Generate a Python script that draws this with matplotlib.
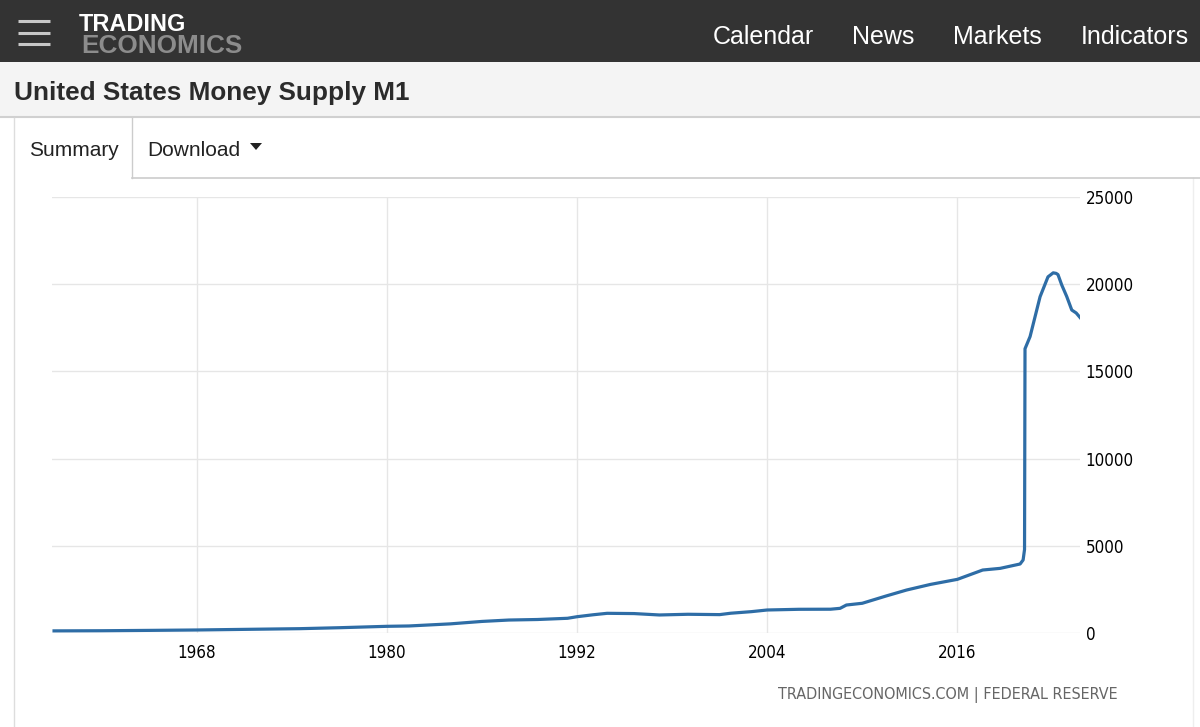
import matplotlib.pyplot as plt
from matplotlib.patches import Rectangle, Polygon
from matplotlib import font_manager

# Data: decimal year, M1 in USD billion
years = [1959.0, 1962.0, 1965.0, 1968.0, 1971.0, 1974.5, 1977.0, 1980.0, 1981.4,
         1984.0, 1986.0, 1987.7, 1989.5, 1991.4, 1992.0, 1993.0, 1993.9, 1995.6,
         1997.2, 1999.0, 2001.0, 2001.7, 2003.0, 2004.0, 2006.0, 2008.0, 2008.6,
         2009.0, 2010.0, 2011.5, 2012.8, 2014.3, 2016.0, 2017.6, 2018.7, 2019.96,
         2020.15, 2020.24, 2020.27, 2020.59, 2021.22, 2021.72, 2022.05, 2022.23,
         2022.35, 2022.59, 2022.9, 2023.22, 2023.5, 2023.79]
m1 = [139, 147, 167, 190, 225, 265, 320, 400, 420,
      540, 680, 760, 790, 860, 950, 1060, 1145, 1130,
      1050, 1090, 1070, 1150, 1240, 1335, 1375, 1380, 1430,
      1620, 1720, 2136, 2480, 2800, 3090, 3625, 3720, 3970,
      4200, 4800, 16300, 17000, 19280, 20420, 20650, 20620,
      20550, 19950, 19300, 18520, 18350, 18040]

x_ticks = [1968, 1980, 1992, 2004, 2016]
y_ticks = [0, 5000, 10000, 15000, 20000, 25000]
nav_items = ['Calendar', 'News', 'Markets', 'Indicators']
nav_x = [713, 852, 953, 1081]

# narrow font for the chart texts, if there is one
narrow = None
for f in font_manager.fontManager.ttflist:
    if (f.name == 'DejaVu Sans' and f.stretch == 'condensed'
            and f.style == 'normal' and f.weight in (400, 'normal')):
        narrow = f.fname
        break
if narrow:
    tick_font = font_manager.FontProperties(fname=narrow, size=12.2)
    src_font = font_manager.FontProperties(fname=narrow, size=11.5)
else:
    tick_font = font_manager.FontProperties(family='DejaVu Sans', size=11)
    src_font = font_manager.FontProperties(family='DejaVu Sans', size=10.5)

W, H = 1200, 727
fig = plt.figure(figsize=(12, 7.27), dpi=100)
fig.patch.set_facecolor('white')

# page background in pixel coords
bg = fig.add_axes([0, 0, 1, 1])
bg.set_xlim(0, W)
bg.set_ylim(H, 0)
bg.axis('off')

# header bar
bg.add_patch(Rectangle((0, 0), W, 62, color='#333333', lw=0))
for yy in [21, 32.5, 44]:
    bg.plot([18, 50], [yy, yy], color='#c8c8c8', lw=2.2, solid_capstyle='butt')
bg.text(79, 30.7, 'TRADING', color='white', fontsize=16.9, fontweight='bold',
        family='Liberation Sans', va='baseline', ha='left')
bg.text(81, 52.7, 'ECONOMICS', color='#8c8c8c', fontsize=18.8, fontweight='bold',
        family='Liberation Sans', va='baseline', ha='left')
for name, xx in zip(nav_items, nav_x):
    bg.text(xx, 44.3, name, color='white', fontsize=18, family='Liberation Sans',
            va='baseline', ha='left')

# title bar
bg.add_patch(Rectangle((0, 62), W, 55, color='#f4f4f4', lw=0))
bg.plot([0, W], [117, 117], color='#d0d0d0', lw=1.5)
bg.text(14, 100, 'United States Money Supply M1', color='#2b2b2b', fontsize=18.8,
        fontweight='bold', family='Liberation Sans', va='baseline', ha='left')

# tabs
bg.plot([14, 14], [118, H], color='#dddddd', lw=1)
bg.plot([1193, 1193], [178, H], color='#eeeeee', lw=1)
bg.plot([131.5, 131.5], [118, 178], color='#cccccc', lw=1)
bg.plot([131.5, W], [178, 178], color='#cccccc', lw=1.2)
bg.text(29, 156.5, 'Summary', color='#222222', fontsize=15, family='Liberation Sans',
        va='baseline', ha='left')
bg.text(147, 156.5, 'Download', color='#222222', fontsize=15, family='Liberation Sans',
        va='baseline', ha='left')
bg.add_patch(Polygon([[250, 143], [262, 143], [256, 150]], closed=True, color='#222222', lw=0))

# source
bg.text(1118, 699, 'TRADINGECONOMICS.COM | FEDERAL RESERVE', color='#666666',
        fontproperties=src_font, va='baseline', ha='right')

# chart
ax_l, ax_r, ax_t, ax_b = 52, 1080, 196.9, 633.3
ax = fig.add_axes([ax_l / W, 1 - ax_b / H, (ax_r - ax_l) / W, (ax_b - ax_t) / H])
ax.set_facecolor('none')
ax.plot(years, m1, color='#2e6da6', lw=2.3, solid_joinstyle='round')
ax.set_xlim(1958.87, 2023.74)
ax.set_ylim(0, 25000)
ax.set_xticks(x_ticks)
ax.set_yticks(y_ticks)
ax.set_xticklabels([str(v) for v in x_ticks])
ax.set_yticklabels([str(v) for v in y_ticks])
ax.yaxis.tick_right()
ax.tick_params(length=0, labelcolor='black')
ax.tick_params(axis='x', pad=8)
ax.tick_params(axis='y', pad=4)
for lab in ax.get_xticklabels() + ax.get_yticklabels():
    lab.set_fontproperties(tick_font)
ax.grid(True, color='#e6e6e6', lw=1)
ax.set_axisbelow(True)
for s in ax.spines.values():
    s.set_visible(False)

fig.savefig('out.png', dpi=100)
